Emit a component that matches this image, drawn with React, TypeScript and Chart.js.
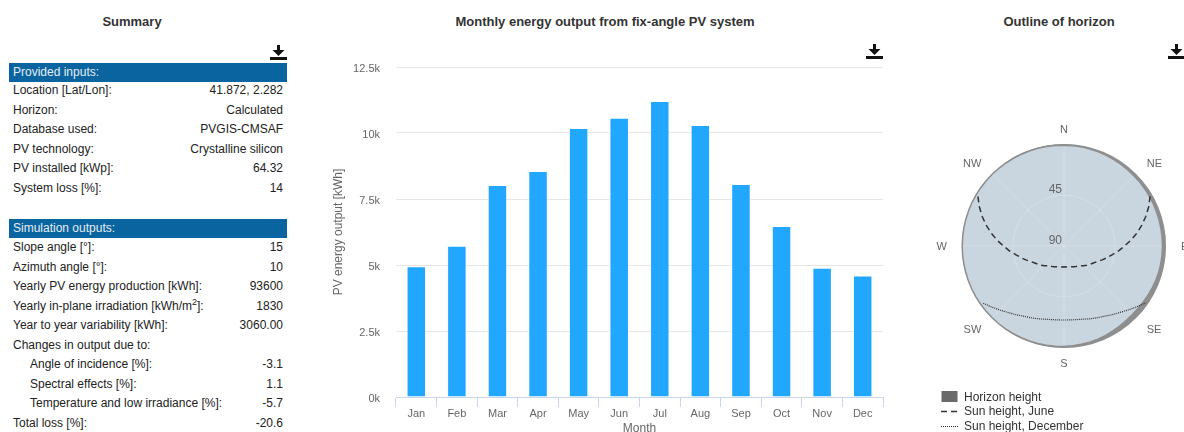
import React, { useEffect, useRef } from 'react';
import { Chart, registerables } from 'chart.js';

Chart.register(...registerables);

const FONT = '"Liberation Sans", Arial, Helvetica, sans-serif';
Chart.defaults.font.family = FONT;

// ---------- Data ----------
const months = ['Jan', 'Feb', 'Mar', 'Apr', 'May', 'Jun', 'Jul', 'Aug', 'Sep', 'Oct', 'Nov', 'Dec'];
const monthlyEnergy = [4950, 5730, 8030, 8560, 10190, 10580, 11210, 10300, 8070, 6480, 4900, 4600];
const yTickValues = [0, 2500, 5000, 7500, 10000, 12500];

const compassLabels = ['N', 'NE', 'E', 'SE', 'S', 'SW', 'W', 'NW'];
const azimuthStep = 5;
const azimuths = Array.from({ length: 360 / azimuthStep }, (_, i) => i * azimuthStep);
const radialTickLabels = [45, 90];

// horizon elevation [deg] every 5 deg of azimuth, from N clockwise
const horizonHeight = [
  1.0, 1.1, 1.2, 1.4, 1.6, 1.8, 2.0, 2.2, 2.4, 2.5, 2.6, 2.7,
  2.8, 2.9, 3.0, 3.0, 3.1, 3.1, 3.1, 3.1, 3.2, 3.3, 3.5, 3.8,
  4.1, 4.4, 4.6, 4.6, 4.4, 4.0, 3.5, 3.0, 2.6, 2.2, 1.9, 1.6,
  1.4, 1.2, 1.0, 0.9, 0.8, 0.7, 0.6, 0.5, 0.4, 0.4, 0.3, 0.3,
  0.2, 0.2, 0.2, 0.2, 0.2, 0.2, 0.2, 0.2, 0.2, 0.2, 0.2, 0.2,
  0.3, 0.3, 0.4, 0.4, 0.5, 0.6, 0.6, 0.7, 0.8, 0.8, 0.9, 1.0,
];

const sunJune = [
  null, null, null, null, null, null, null, null, null, null, null, null,
  2.3, 7.5, 13.1, 18.9, 24.8, 30.7, 36.6, 41.6, 46.6, 50.6, 54.1, 57.6,
  60.1, 61.9, 63.7, 65.5, 67.3, 68.3, 69.1, 69.9, 70.6, 71.0, 71.3, 71.5,
  71.6, 71.5, 71.3, 71.0, 70.6, 69.9, 69.1, 68.3, 67.3, 65.5, 63.7, 61.9,
  60.1, 57.6, 54.1, 50.6, 46.6, 41.6, 36.6, 30.7, 24.8, 18.9, 13.1, 7.5,
  2.3, null, null, null, null, null, null, null, null, null, null, null,
];

const sunDecember = [
  null, null, null, null, null, null, null, null, null, null, null, null,
  null, null, null, null, null, null, null, null, null, null, null, null,
  null, 2.4, 6.4, 10.1, 13.4, 16.0, 18.5, 20.2, 21.7, 23.2, 24.1, 24.5,
  24.7, 24.5, 24.1, 23.2, 21.7, 20.2, 18.5, 16.0, 13.4, 10.1, 6.4, 2.4,
  null, null, null, null, null, null, null, null, null, null, null, null,
  null, null, null, null, null, null, null, null, null, null, null, null,
];

const inputRows: [string, string][] = [
  ['Location [Lat/Lon]:', '41.872, 2.282'],
  ['Horizon:', 'Calculated'],
  ['Database used:', 'PVGIS-CMSAF'],
  ['PV technology:', 'Crystalline silicon'],
  ['PV installed [kWp]:', '64.32'],
  ['System loss [%]:', '14'],
];

const outputRows: [string, string, boolean][] = [
  ['Slope angle [°]:', '15', false],
  ['Azimuth angle [°]:', '10', false],
  ['Yearly PV energy production [kWh]:', '93600', false],
  ['Yearly in-plane irradiation [kWh/m²]:', '1830', false],
  ['Year to year variability [kWh]:', '3060.00', false],
  ['Changes in output due to:', '', false],
  ['Angle of incidence [%]:', '-3.1', true],
  ['Spectral effects [%]:', '1.1', true],
  ['Temperature and low irradiance [%]:', '-5.7', true],
  ['Total loss [%]:', '-20.6', false],
];

// ---------- Styles ----------
const BAR_COLOR = '#22a7ff';
const SKY = '#c9d5df';
const HORIZON = '#8e8e8e';
const LABEL = '#666666';

const horizonDecor = {
  id: 'horizonDecor',
  beforeDraw(chart: any) {
    const s = chart.scales.r;
    const ctx = chart.ctx;
    ctx.save();
    ctx.beginPath();
    ctx.arc(s.xCenter, s.yCenter, s.drawingArea, 0, Math.PI * 2);
    ctx.fillStyle = SKY;
    ctx.fill();
    ctx.restore();
  },
  afterDatasetsDraw(chart: any) {
    const s = chart.scales.r;
    const ctx = chart.ctx;
    ctx.save();
    ctx.fillStyle = LABEL;
    ctx.textBaseline = 'middle';
    ctx.font = `11px ${FONT}`;
    const per = azimuths.length / compassLabels.length;
    compassLabels.forEach((lab, k) => {
      const p = s.getPointPosition(k * per, s.drawingArea + 15);
      ctx.textAlign = k === 0 || k === 4 ? 'center' : k < 4 ? 'left' : 'right';
      ctx.fillText(lab, p.x, p.y + 1);
    });
    ctx.font = `12px ${FONT}`;
    ctx.textAlign = 'right';
    radialTickLabels.forEach((v) => {
      const p = s.getPointPositionForValue(0, v);
      ctx.fillText(String(v), p.x - 2, p.y - 5);
    });
    ctx.restore();
  },
};

function DownloadIcon({ left, top }: { left: number; top: number }) {
  return (
    <svg style={{ position: 'absolute', left, top }} width={17} height={16} viewBox="0 0 17 16">
      <rect x={7} y={0} width={3} height={6} fill="#111" />
      <polygon points="2.5,5 14.5,5 8.5,11" fill="#111" />
      <rect x={0} y={12} width={17} height={3} fill="#111" />
    </svg>
  );
}

function renderLabel(label: string) {
  if (label.indexOf('²') < 0) return label;
  const [a, b] = label.split('²');
  return (
    <>
      {a}
      <sup style={{ fontSize: 9, lineHeight: 0, verticalAlign: 'super' }}>2</sup>
      {b}
    </>
  );
}

const ROW_H = 19.5;

function Band({ top, text }: { top: number; text: string }) {
  return (
    <div
      style={{
        position: 'absolute', left: 9, top, width: 278, height: 19, lineHeight: '19px',
        background: '#0a64a0', color: '#e6edf3', fontSize: 12, paddingLeft: 4, boxSizing: 'border-box',
      }}
    >
      {text}
    </div>
  );
}

function Row({ top, label, value, indent }: { top: number; label: string; value: string; indent?: boolean }) {
  return (
    <div style={{ position: 'absolute', left: 9, top, width: 278, height: ROW_H, lineHeight: `${ROW_H}px`, fontSize: 12, color: '#222' }}>
      <span style={{ position: 'absolute', left: indent ? 21 : 4, whiteSpace: 'nowrap' }}>{renderLabel(label)}</span>
      <span style={{ position: 'absolute', right: 4, whiteSpace: 'nowrap' }}>{value}</span>
    </div>
  );
}

function Title({ center, text }: { center: number; text: string }) {
  return (
    <div style={{ position: 'absolute', left: center - 200, top: 14, width: 400, textAlign: 'center', fontSize: 13, fontWeight: 'bold', lineHeight: '16px', color: '#333' }}>
      {text}
    </div>
  );
}

export default function App() {
  const barRef = useRef<HTMLCanvasElement>(null);
  const polarRef = useRef<HTMLCanvasElement>(null);

  useEffect(() => {
    const bar = new Chart(barRef.current!, {
      type: 'bar',
      data: {
        labels: months,
        datasets: [
          {
            label: 'PV energy output',
            data: monthlyEnergy,
            backgroundColor: BAR_COLOR,
            borderColor: 'rgba(255,255,255,0.55)',
            borderWidth: 1,
            categoryPercentage: 0.6,
            barPercentage: 0.8,
          },
        ],
      },
      options: {
        animation: false,
        responsive: false,
        maintainAspectRatio: false,
        layout: { padding: { top: 27, right: 7, left: 0, bottom: 0 } },
        plugins: { legend: { display: false }, tooltip: { enabled: false } },
        scales: {
          x: {
            grid: { drawOnChartArea: false, drawTicks: true, tickLength: 10, color: '#ccd6eb', offset: true },
            border: { color: '#ccd6eb' },
            ticks: { color: LABEL, font: { size: 11 }, padding: 0 },
            title: { display: true, text: 'Month', color: LABEL, font: { size: 12 }, padding: { top: 0, bottom: 4 } },
            afterFit: (s: any) => { s.height = 43; },
          },
          y: {
            min: 0,
            max: 12500,
            afterBuildTicks: (s: any) => { s.ticks = yTickValues.map((v) => ({ value: v })); },
            ticks: { color: LABEL, font: { size: 11 }, padding: 16, labelOffset: 2, callback: (v: any) => `${Number(v) / 1000}k` },
            grid: { color: '#e6e6e6', drawTicks: false },
            border: { display: false },
            title: { display: true, text: 'PV energy output [kWh]', color: LABEL, font: { size: 12 }, padding: { top: 11, bottom: 0 } },
            afterFit: (s: any) => { s.width = 76; },
          },
        },
      },
    });

    const polar = new Chart(polarRef.current!, {
      type: 'radar',
      data: {
        labels: azimuths.map(String),
        datasets: [
          {
            label: 'Sun height, June',
            data: sunJune,
            borderColor: '#333',
            borderWidth: 1.5,
            borderDash: [6, 4],
            pointRadius: 0,
            fill: false,
            spanGaps: false,
          },
          {
            label: 'Sun height, December',
            data: sunDecember,
            borderColor: '#333',
            borderWidth: 1.2,
            borderDash: [1, 1],
            pointRadius: 0,
            fill: false,
            spanGaps: false,
          },
          {
            label: 'Horizon height',
            data: horizonHeight,
            borderColor: HORIZON,
            borderWidth: 1.5,
            backgroundColor: HORIZON,
            fill: 'origin',
            pointRadius: 0,
          },
        ],
      },
      options: {
        animation: false,
        responsive: false,
        maintainAspectRatio: false,
        layout: { padding: { left: 48, right: 48, top: 44, bottom: 44 } },
        plugins: { legend: { display: false }, tooltip: { enabled: false } },
        scales: {
          r: {
            min: 0,
            max: 90,
            reverse: true,
            ticks: { display: false, stepSize: 45 },
            pointLabels: { display: false },
            grid: { circular: true, color: 'rgba(255,255,255,0.22)' },
            angleLines: {
              color: 'rgba(255,255,255,0.22)',
              lineWidth: (c: any) => (c.index % (azimuths.length / compassLabels.length) === 0 ? 1 : 0),
            },
          },
        },
      },
      plugins: [horizonDecor],
    });

    return () => {
      bar.destroy();
      polar.destroy();
    };
  }, []);

  return (
    <div style={{ position: 'absolute', left: 0, top: 0, width: 1184, height: 432, overflow: 'hidden', fontFamily: FONT, background: '#fff' }}>
      <Title center={132} text="Summary" />
      <Title center={605} text="Monthly energy output from fix-angle PV system" />
      <Title center={1059} text="Outline of horizon" />

      <DownloadIcon left={270} top={45} />
      <DownloadIcon left={866} top={44} />
      <DownloadIcon left={1168} top={44} />

      <Band top={63} text="Provided inputs:" />
      {inputRows.map(([l, v], i) => (
        <Row key={l} top={81 + i * ROW_H} label={l} value={v} />
      ))}
      <Band top={219} text="Simulation outputs:" />
      {outputRows.map(([l, v, ind], i) => (
        <Row key={l} top={238 + i * ROW_H} label={l} value={v} indent={ind} />
      ))}

      <canvas ref={barRef} width={570} height={400} style={{ position: 'absolute', left: 320, top: 40, width: 570, height: 400 }} />
      <canvas ref={polarRef} width={300} height={292} style={{ position: 'absolute', left: 914, top: 100, width: 300, height: 292 }} />

      <div style={{ position: 'absolute', left: 941, top: 389.5, fontSize: 12, color: '#333', lineHeight: '14.5px' }}>
        <div style={{ position: 'relative', height: 14.5 }}>
          <svg width={17} height={14} style={{ position: 'absolute', left: 0, top: 0 }}>
            <rect x={0.5} y={1} width={16} height={11} fill="#6a6a6a" />
          </svg>
          <span style={{ position: 'absolute', left: 23, whiteSpace: 'nowrap' }}>Horizon height</span>
        </div>
        <div style={{ position: 'relative', height: 14.5 }}>
          <svg width={17} height={14} style={{ position: 'absolute', left: 0, top: 0 }}>
            <line x1={0} y1={7.5} x2={17} y2={7.5} stroke="#333" strokeWidth={1.5} strokeDasharray="6,4" />
          </svg>
          <span style={{ position: 'absolute', left: 23, whiteSpace: 'nowrap' }}>Sun height, June</span>
        </div>
        <div style={{ position: 'relative', height: 14.5 }}>
          <svg width={17} height={14} style={{ position: 'absolute', left: 0, top: 0 }}>
            <line x1={0} y1={7.5} x2={17} y2={7.5} stroke="#333" strokeWidth={1.2} strokeDasharray="1,1" />
          </svg>
          <span style={{ position: 'absolute', left: 23, whiteSpace: 'nowrap' }}>Sun height, December</span>
        </div>
      </div>
    </div>
  );
}
